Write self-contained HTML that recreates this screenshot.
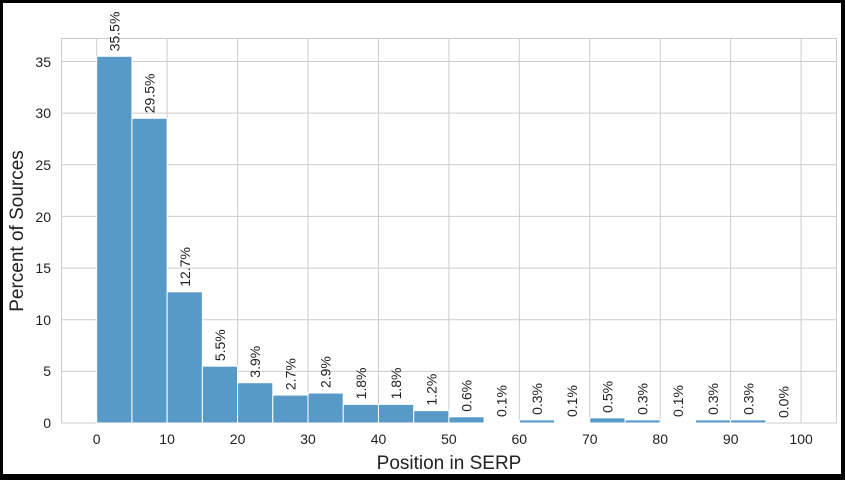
<!DOCTYPE html>
<html><head><meta charset="utf-8"><style>
html,body{margin:0;padding:0;background:#000}
svg{display:block}
text{font-family:"Liberation Sans",Arial,sans-serif;fill:#222}
</style></head><body>
<svg width="845" height="480" xmlns="http://www.w3.org/2000/svg">
<rect x="3" y="3" width="838" height="471" fill="#fff"/>
<g stroke="#cccccc" stroke-width="1" fill="none">
<rect x="61.5" y="38.5" width="775" height="384.5"/>
<line x1="96.7" y1="38.5" x2="96.7" y2="423"/>
<line x1="167.1" y1="38.5" x2="167.1" y2="423"/>
<line x1="237.6" y1="38.5" x2="237.6" y2="423"/>
<line x1="308" y1="38.5" x2="308" y2="423"/>
<line x1="378.5" y1="38.5" x2="378.5" y2="423"/>
<line x1="448.9" y1="38.5" x2="448.9" y2="423"/>
<line x1="519.3" y1="38.5" x2="519.3" y2="423"/>
<line x1="589.8" y1="38.5" x2="589.8" y2="423"/>
<line x1="660.2" y1="38.5" x2="660.2" y2="423"/>
<line x1="730.7" y1="38.5" x2="730.7" y2="423"/>
<line x1="801.1" y1="38.5" x2="801.1" y2="423"/>
<line x1="61.5" y1="61.5" x2="836.5" y2="61.5"/>
<line x1="61.5" y1="113.1" x2="836.5" y2="113.1"/>
<line x1="61.5" y1="164.8" x2="836.5" y2="164.8"/>
<line x1="61.5" y1="216.4" x2="836.5" y2="216.4"/>
<line x1="61.5" y1="268.1" x2="836.5" y2="268.1"/>
<line x1="61.5" y1="319.7" x2="836.5" y2="319.7"/>
<line x1="61.5" y1="371.4" x2="836.5" y2="371.4"/>
</g>
<g id="bars" fill="#5799c7" stroke="#fff" stroke-width="1"></g>
<g id="labels" font-size="14"></g>
<g font-size="14" text-anchor="end">
<text x="51" y="428">0</text><text x="51" y="376">5</text><text x="51" y="325">10</text><text x="51" y="273">15</text><text x="51" y="222">20</text><text x="51" y="170">25</text><text x="51" y="118">30</text><text x="51" y="67">35</text>
</g>
<g font-size="14" text-anchor="middle">
<text x="96.7" y="444">0</text><text x="167.1" y="444">10</text><text x="237.6" y="444">20</text><text x="308" y="444">30</text><text x="378.5" y="444">40</text><text x="448.9" y="444">50</text><text x="519.3" y="444">60</text><text x="589.8" y="444">70</text><text x="660.2" y="444">80</text><text x="730.7" y="444">90</text><text x="801.1" y="444">100</text>
</g>
<text x="449" y="469" font-size="19" text-anchor="middle">Position in SERP</text>
<text transform="translate(23,231) rotate(-90)" font-size="19" text-anchor="middle">Percent of Sources</text>
</svg>
<script>
var v=[35.5,29.5,12.7,5.5,3.9,2.7,2.9,1.8,1.8,1.2,0.6,0.1,0.3,0.1,0.5,0.3,0.1,0.3,0.3,0.0];
var b=document.getElementById('bars'),l=document.getElementById('labels'),ns='http://www.w3.org/2000/svg';
v.forEach(function(d,i){
 var x0=96.7+i*5*7.044,w=5*7.044,h=d*10.33,y=423-h;
 if(d>0){var r=document.createElementNS(ns,'rect');r.setAttribute('x',x0);r.setAttribute('y',y);r.setAttribute('width',w);r.setAttribute('height',h);b.appendChild(r);}
 var t=document.createElementNS(ns,'text');var cx=x0+w/2+5,cy=y-5;
 t.setAttribute('transform','translate('+cx+','+cy+') rotate(-90)');t.textContent=d.toFixed(1)+'%';l.appendChild(t);
});
</script>
</body></html>
